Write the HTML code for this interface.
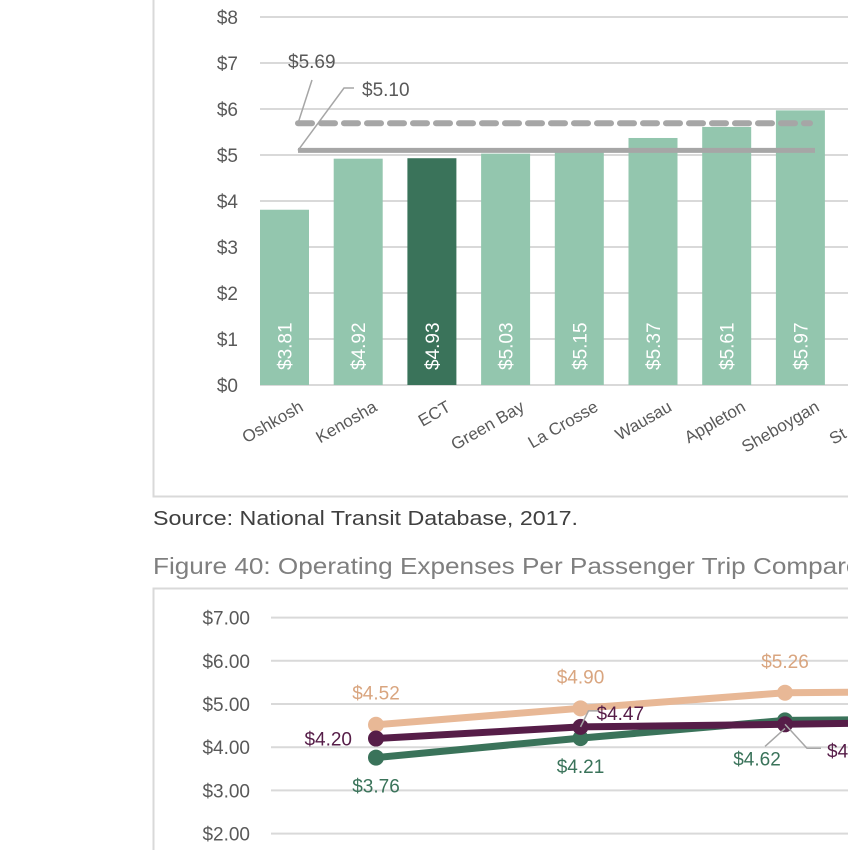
<!DOCTYPE html>
<html><head><meta charset="utf-8"><style>
body{margin:0;width:848px;height:850px;overflow:hidden;background:#fff;font-family:"Liberation Sans",sans-serif;}
svg{position:absolute;left:0;top:0}
</style></head><body>
<svg width="848" height="850">
<g id="bar"></g>
<g id="line"></g>
</svg>
<script>
const NS='http://www.w3.org/2000/svg';
function el(tag,attrs,parent,text){const e=document.createElementNS(NS,tag);for(const k in attrs)e.setAttribute(k,attrs[k]);if(text!==undefined)e.textContent=text;parent.appendChild(e);return e;}

// ---- Bar chart data ----
const barCats=['Oshkosh','Kenosha','ECT','Green Bay','La Crosse','Wausau','Appleton','Sheboygan','St. Cloud'];
const barVals=[3.81,4.92,4.93,5.03,5.15,5.37,5.61,5.97,6.10];
const barLabels=['$3.81','$4.92','$4.93','$5.03','$5.15','$5.37','$5.61','$5.97','$6.10'];
const barTicks=[0,1,2,3,4,5,6,7,8];
const avgSolid=5.10, avgDashed=5.69;

// ---- Line chart data ----
const lineTicks=[2,3,4,5,6,7];
const seriesOrange=[4.52,4.90,5.26,5.30];
const seriesPurple=[4.20,4.47,4.53,4.60];
const seriesGreen=[3.76,4.21,4.62,4.66];

const B=document.getElementById('bar');
const by=v=>385-v*46;
const bx=i=>284.5+i*73.7;
const f1=el('path',{d:'M153.5 0 V496.5 H848',fill:'none',stroke:'#d9d9d9','stroke-width':2},B);

barTicks.forEach(t=>{
  const g=el('line',{x1:260,x2:848,y1:by(t),y2:by(t),stroke:'#d9d9d9','stroke-width':2},B);
  
  const tx=el('text',{x:238,y:by(t)+7,'text-anchor':'end','font-size':19,fill:'#595959'},B,'$'+t);
  
});
barCats.forEach((c,i)=>{
  const x=bx(i),v=barVals[i];
  const r=el('rect',{x:x-24.5,y:by(v),width:49,height:by(0)-by(v),fill:c==='ECT'?'#3a735a':'#93c6ae'},B);
  
  const t=el('text',{x:0,y:0,transform:`translate(${x+7},370) rotate(-90)`,'font-size':19,fill:'#fff'},B,barLabels[i]);
  
  const cl=el('text',{x:0,y:0,transform:`translate(${x+20},410) rotate(-30)`,'text-anchor':'end','font-size':17,fill:'#595959'},B,c);
  
});
const ld=el('line',{x1:298,x2:810,y1:by(avgDashed),y2:by(avgDashed),stroke:'#a6a6a6','stroke-width':6,'stroke-dasharray':'14 9','stroke-linecap':'round'},B);

const ls=el('line',{x1:298,x2:815,y1:by(avgSolid),y2:by(avgSolid),stroke:'#a6a6a6','stroke-width':5},B);

el('path',{d:`M312 80 L298 ${by(avgDashed)}`,stroke:'#a6a6a6','stroke-width':1.5,fill:'none'},B);
el('path',{d:`M354 88 H344 L298 ${by(avgSolid)}`,stroke:'#a6a6a6','stroke-width':1.5,fill:'none'},B);
const a1=el('text',{x:288,y:68,'font-size':19,fill:'#595959'},B,'$'+avgDashed.toFixed(2));

const a2=el('text',{x:362,y:96,'font-size':19,fill:'#595959'},B,'$'+avgSolid.toFixed(2));

const src=el('text',{x:153,y:525,'font-size':20,fill:'#404040',textLength:425,lengthAdjust:'spacingAndGlyphs'},B,'Source: National Transit Database, 2017.');

const ttl=el('text',{x:153,y:574,'font-size':23,fill:'#7f7f7f',textLength:722,lengthAdjust:'spacingAndGlyphs'},B,'Figure 40: Operating Expenses Per Passenger Trip Compared');


// ---- line chart ----
const L=document.getElementById('line');
const ly=v=>920-v*43.2;
const lx=i=>376+i*204.5;
const f2=el('path',{d:'M153.5 850 V588.5 H848',fill:'none',stroke:'#d9d9d9','stroke-width':2},L);

lineTicks.forEach(t=>{
  const g=el('line',{x1:271,x2:848,y1:ly(t),y2:ly(t),stroke:'#d9d9d9','stroke-width':2},L);
  
  const tx=el('text',{x:250,y:ly(t)+7,'text-anchor':'end','font-size':19,fill:'#595959'},L,'$'+t.toFixed(2));
  
});
function series(vals,color,name){
  const p=el('polyline',{points:vals.map((v,i)=>lx(i)+','+ly(v)).join(' '),fill:'none',stroke:color,'stroke-width':7,'stroke-linejoin':'round'},L);
  
  vals.forEach((v,i)=>{const c=el('circle',{cx:lx(i),cy:ly(v),r:8,fill:color},L);
    });
}
series(seriesGreen,'#3a735a','green-series');
series(seriesOrange,'#e8b896','orange-series');
series(seriesPurple,'#561d48','purple-series');
function lab(x,y,t,color,anchor){const e=el('text',{x:x,y:y,'text-anchor':anchor||'middle','font-size':19,fill:color},L,t);
  }
seriesOrange.slice(0,3).forEach((v,i)=>lab(lx(i),ly(v)-25,'$'+v.toFixed(2),'#d9a57f'));
seriesGreen.slice(0,2).forEach((v,i)=>lab(lx(i),ly(v)+35,'$'+v.toFixed(2),'#3a735a'));
lab(lx(2)-28,ly(seriesGreen[2])+45,'$'+seriesGreen[2].toFixed(2),'#3a735a');
lab(lx(0)-24,ly(seriesPurple[0])+7,'$'+seriesPurple[0].toFixed(2),'#561d48','end');
lab(lx(1)+16,ly(seriesPurple[1])-7,'$'+seriesPurple[1].toFixed(2),'#561d48','start');
lab(lx(2)+42,ly(seriesPurple[2])+33,'$'+seriesPurple[2].toFixed(2),'#561d48','start');
el('path',{d:`M${lx(1)+18} ${ly(seriesPurple[1])-16} H${lx(1)+8} L${lx(1)} ${ly(seriesPurple[1])}`,stroke:'#a6a6a6','stroke-width':1.5,fill:'none'},L);
el('path',{d:`M${lx(2)-20} ${ly(seriesGreen[2])+26} L${lx(2)} ${ly(seriesGreen[2])+8}`,stroke:'#a6a6a6','stroke-width':1.5,fill:'none'},L);
el('path',{d:`M${lx(2)} ${ly(seriesPurple[2])} L${lx(2)+22} ${ly(seriesPurple[2])+24} H${lx(2)+36}`,stroke:'#a6a6a6','stroke-width':1.5,fill:'none'},L);
</script>
</body></html>
